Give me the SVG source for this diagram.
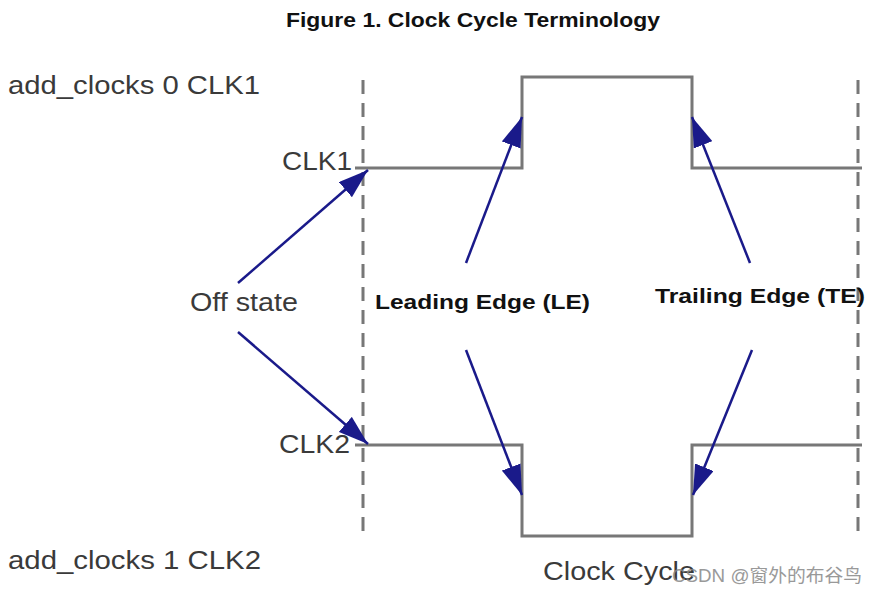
<svg xmlns="http://www.w3.org/2000/svg" width="880" height="593" viewBox="0 0 880 593">
<style>
.t{font-family:"Liberation Sans",Arial,sans-serif;fill:#3a3a3a;font-size:26px}
.b{font-family:"Liberation Sans",Arial,sans-serif;font-weight:bold;fill:#111;font-size:20px}
.wave{fill:none;stroke:#777;stroke-width:3}
.dash{stroke:#777;stroke-width:3;stroke-dasharray:14 9}
.arr{stroke:#1a1a8a;stroke-width:2.5;fill:none;marker-end:url(#ah)}
</style>
<defs>
<marker id="ah" viewBox="0 0 30 20" refX="30" refY="10" markerWidth="30" markerHeight="20" markerUnits="userSpaceOnUse" orient="auto">
<path d="M0,0 L30,10 L0,20 Z" fill="#1a1a8a"/>
</marker>
</defs>
<rect width="880" height="593" fill="#fff"/>
<text x="286" y="27" textLength="374" lengthAdjust="spacingAndGlyphs" class="b">Figure 1. Clock Cycle Terminology</text>
<g id="guides">
<line class="dash" x1="363" y1="80" x2="363" y2="540"/>
<line class="dash" x1="858" y1="80" x2="858" y2="540"/>
</g>
<g id="clk1"><path class="wave" d="M355,168 H522 V77 H692 V168 H862"/></g>
<g id="clk2"><path class="wave" d="M355,445 H522 V536 H692 V445 H862"/></g>
<g id="labels">
<text x="8" y="94" textLength="252" lengthAdjust="spacingAndGlyphs" class="t">add_clocks 0 CLK1</text>
<text x="282" y="170" textLength="70" lengthAdjust="spacingAndGlyphs" class="t">CLK1</text>
<text x="190" y="311" textLength="108" lengthAdjust="spacingAndGlyphs" class="t">Off state</text>
<text x="375" y="309" textLength="215" lengthAdjust="spacingAndGlyphs" class="b">Leading Edge (LE)</text>
<text x="655" y="303" textLength="210" lengthAdjust="spacingAndGlyphs" class="b">Trailing Edge (TE)</text>
<text x="279" y="453" textLength="71" lengthAdjust="spacingAndGlyphs" class="t">CLK2</text>
<text x="8" y="569" textLength="253" lengthAdjust="spacingAndGlyphs" class="t">add_clocks 1 CLK2</text>
<text x="543" y="580" textLength="152" lengthAdjust="spacingAndGlyphs" class="t">Clock Cycle</text>
<text x="672" y="582" textLength="190" lengthAdjust="spacingAndGlyphs" style="font-family:'Liberation Sans','Noto Sans CJK SC',sans-serif;font-size:18px;fill:#888;opacity:0.85">CSDN @窗外的布谷鸟</text>
</g>
<g id="connectors">
<line class="arr" x1="238" y1="283" x2="368" y2="170"/>
<line class="arr" x1="238" y1="332" x2="368" y2="444"/>
<line class="arr" x1="466" y1="263" x2="522" y2="117"/>
<line class="arr" x1="750" y1="263" x2="692" y2="117"/>
<line class="arr" x1="466" y1="350" x2="522" y2="495"/>
<line class="arr" x1="752" y1="350" x2="693" y2="495"/>
</g>
</svg>
